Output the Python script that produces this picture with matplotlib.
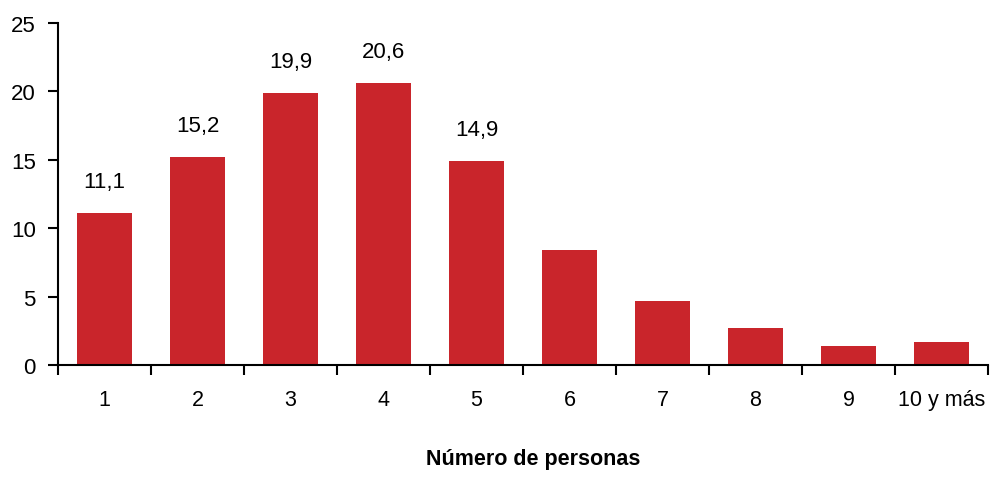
import matplotlib.pyplot as plt
import numpy as np

## data
categorias = ['1', '2', '3', '4', '5', '6', '7', '8', '9', '10 y más']
porcentajes = [11.1, 15.2, 19.9, 20.6, 14.9, 8.4, 4.7, 2.7, 1.4, 1.7]
etiquetadas = 5  # only the first bars carry a value label

plt.rcParams['font.family'] = ['Liberation Sans', 'DejaVu Sans']

fig = plt.figure(figsize=(9.95, 4.81), dpi=100)
ax = fig.add_axes([0.0583, 0.239, 0.9347, 0.711])

x = np.arange(len(categorias))
bars = ax.bar(x, porcentajes, width=0.59, color='#C9252B', zorder=2)

## value labels with decimal comma
for i in range(etiquetadas):
    ax.annotate('{:.1f}'.format(porcentajes[i]).replace('.', ','),
                xy=(x[i], porcentajes[i]), xytext=(0, 15),
                textcoords='offset points', ha='center', va='bottom',
                fontsize=16)

ax.set_xlim(-0.5, len(categorias) - 0.5)
ax.set_ylim(0, 25)
ax.set_yticks([0, 5, 10, 15, 20, 25])

# ticks between categories, labels centred under bars
ax.set_xticks(np.arange(-0.5, len(categorias), 1.0))
ax.set_xticklabels([])
ax.set_xticks(x, minor=True)
ax.set_xticklabels(categorias, minor=True)
ax.tick_params(axis='x', which='major', length=7, width=1.5, direction='out')
ax.tick_params(axis='x', which='minor', length=0, pad=17, labelsize=15.5)
ax.tick_params(axis='y', length=7, width=1.5, direction='out', labelsize=16, pad=9)

for s in ['top', 'right']:
    ax.spines[s].set_visible(False)
for s in ['left', 'bottom']:
    ax.spines[s].set_linewidth(1.5)
    ax.spines[s].set_zorder(3)

fig.text(0.536, 0.022, 'Número de personas', ha='center', va='bottom',
         fontsize=15.5, fontweight='bold')

plt.savefig('out.png', dpi=100)
